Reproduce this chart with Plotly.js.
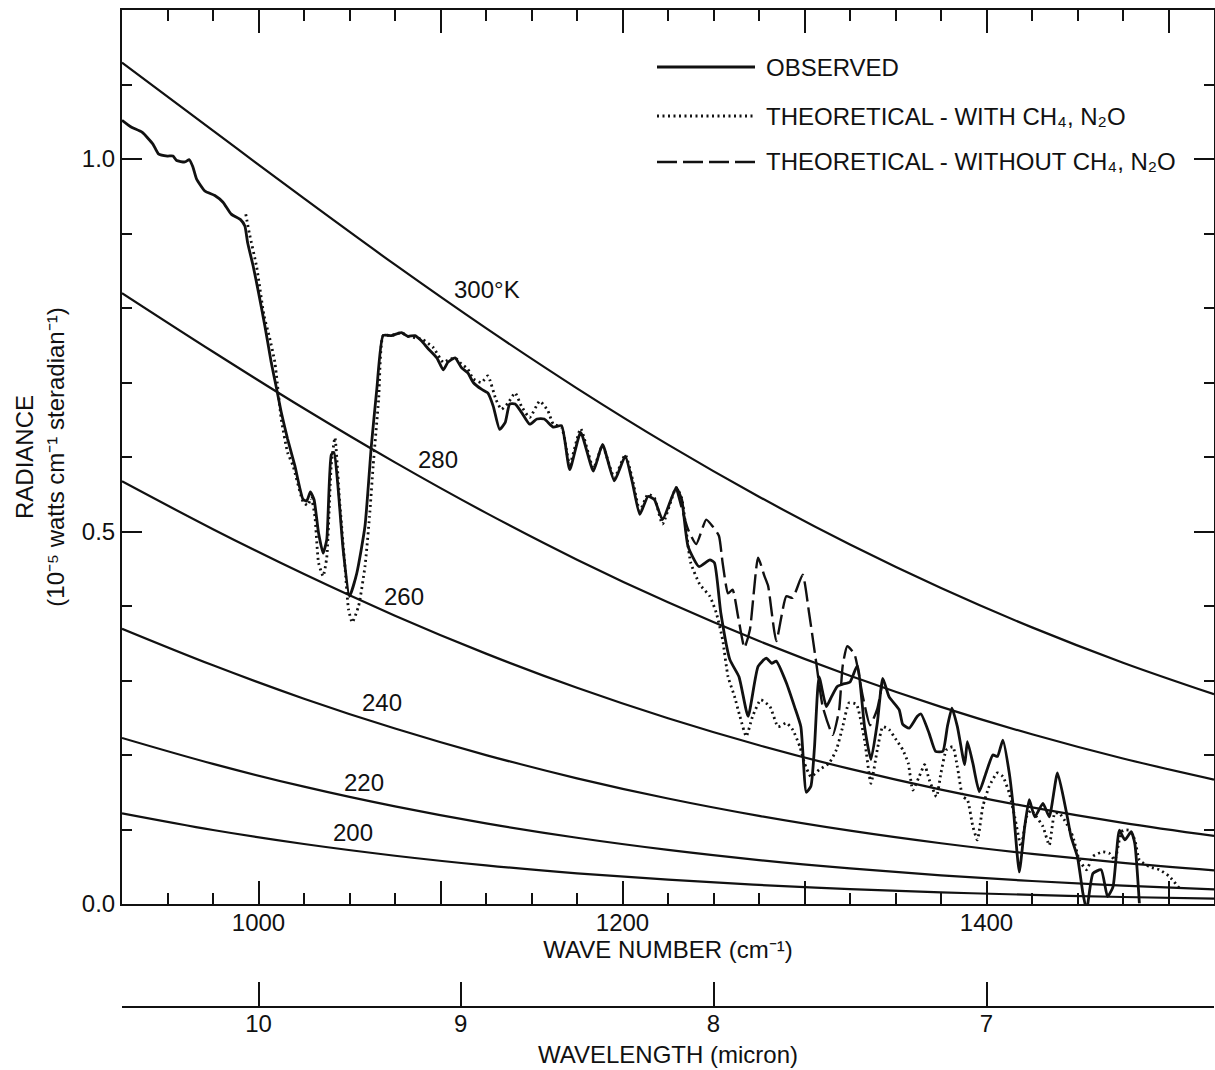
<!DOCTYPE html>
<html>
<head>
<meta charset="utf-8">
<script src="https://cdn.plot.ly/plotly-3.0.1.min.js"></script>
<style>
html,body{margin:0;padding:0;background:#fff;}
#chart{width:1215px;height:1070px;}
</style>
</head>
<body>
<div id="chart"></div>
<script>
// ---------- Blackbody reference curves ----------
const bbWavenumber = [925, 975, 1025, 1075, 1125, 1175, 1225, 1275, 1325, 1375, 1425, 1475, 1525];
const bb300 = [1.1294, 1.0380, 0.9470, 0.8581, 0.7729, 0.6922, 0.6166, 0.5467, 0.4825, 0.4241, 0.3713, 0.3239, 0.2816];
const bb280 = [0.8200, 0.7413, 0.6651, 0.5928, 0.5250, 0.4622, 0.4049, 0.3529, 0.3063, 0.2646, 0.2278, 0.1953, 0.1670];
const bb260 = [0.5674, 0.5031, 0.4428, 0.3870, 0.3361, 0.2902, 0.2493, 0.2131, 0.1813, 0.1536, 0.1297, 0.1090, 0.0914];
const bb240 = [0.3695, 0.3204, 0.2756, 0.2355, 0.1999, 0.1687, 0.1416, 0.1183, 0.0984, 0.0815, 0.0672, 0.0552, 0.0452];
const bb220 = [0.2229, 0.1881, 0.1575, 0.1310, 0.1082, 0.0889, 0.0726, 0.0590, 0.0478, 0.0385, 0.0309, 0.0247, 0.0197];
const bb200 = [0.1216, 0.0993, 0.0805, 0.0648, 0.0518, 0.0412, 0.0326, 0.0256, 0.0201, 0.0157, 0.0122, 0.0094, 0.0073];
const bbLabels = ['300°K', '280', '260', '240', '220', '200'];

// ---------- Observed spectrum ----------
const obsWn = [925, 930, 936, 942, 945, 950, 953, 955, 959.5, 962, 964, 966, 970.5, 976, 980.5, 985, 990, 992.5, 994, 997,
  1000, 1003.5, 1007, 1010, 1012.5, 1016, 1020, 1024.5, 1026.5, 1028.5, 1030.5, 1033, 1035.5, 1037.5, 1040, 1041.5, 1043.5, 1046.5, 1050, 1054,
  1058.5, 1062, 1065, 1068.5, 1073, 1078.5, 1082, 1086, 1089.5, 1093, 1098, 1101.5, 1104, 1108, 1111.5, 1115, 1118, 1122.5, 1126, 1129,
  1132.5, 1135.5, 1138, 1141, 1144.5, 1149, 1153, 1157, 1162, 1166.5, 1171, 1177, 1184, 1189, 1195.5, 1201.5, 1205.5, 1209.5, 1214, 1217.5,
  1222, 1229.5, 1232.5, 1236, 1242, 1248, 1250.5, 1254, 1259, 1264, 1269, 1274.5, 1279, 1282, 1284.5, 1290, 1294.5, 1298, 1301, 1303.5,
  1305.5, 1308, 1312, 1315, 1318, 1321, 1325, 1329, 1333, 1336.5, 1340, 1343, 1346.5, 1352, 1354, 1357.5, 1362, 1364, 1368.5, 1372,
  1376, 1378.5, 1381, 1384, 1388, 1389.5, 1392.5, 1396, 1400, 1403.5, 1406, 1409, 1412.5, 1414.5, 1418, 1421, 1423.5, 1426.5, 1431, 1434.5,
  1439, 1444, 1446.5, 1450, 1453, 1455, 1458.5, 1463, 1466.5, 1469.5, 1473, 1476, 1479.5, 1481.5, 1484];
const obsRad = [1.052, 1.043, 1.036, 1.020, 1.007, 1.004, 1.004, 0.998, 0.996, 0.999, 0.989, 0.973, 0.957, 0.951, 0.942, 0.926, 0.919, 0.910, 0.888, 0.857,
  0.821, 0.776, 0.727, 0.691, 0.660, 0.624, 0.588, 0.543, 0.541, 0.553, 0.543, 0.498, 0.471, 0.489, 0.603, 0.606, 0.565, 0.476, 0.413, 0.444,
  0.507, 0.615, 0.691, 0.763, 0.763, 0.767, 0.762, 0.763, 0.756, 0.746, 0.733, 0.717, 0.727, 0.733, 0.720, 0.713, 0.700, 0.691, 0.686, 0.668,
  0.637, 0.646, 0.671, 0.671, 0.660, 0.644, 0.651, 0.651, 0.640, 0.642, 0.583, 0.633, 0.581, 0.617, 0.568, 0.601, 0.565, 0.523, 0.547, 0.543,
  0.516, 0.559, 0.543, 0.480, 0.453, 0.462, 0.458, 0.391, 0.328, 0.305, 0.252, 0.319, 0.330, 0.323, 0.326, 0.297, 0.265, 0.238, 0.150, 0.158,
  0.211, 0.305, 0.265, 0.279, 0.292, 0.295, 0.298, 0.320, 0.238, 0.194, 0.243, 0.303, 0.278, 0.261, 0.241, 0.236, 0.252, 0.255, 0.229, 0.205,
  0.205, 0.238, 0.263, 0.238, 0.187, 0.218, 0.189, 0.151, 0.178, 0.200, 0.198, 0.220, 0.176, 0.135, 0.043, 0.104, 0.140, 0.117, 0.135, 0.117,
  0.176, 0.122, 0.090, 0.063, 0.014, -0.008, 0.041, 0.046, 0.010, 0.023, 0.099, 0.086, 0.097, 0.081, 0.001];

// ---------- Theoretical, with CH4 and N2O ----------
const withWn = [993, 995, 999, 1003, 1006, 1009, 1012.5, 1016, 1019, 1024.5, 1027, 1029, 1031, 1033, 1035.5, 1037.5, 1040, 1042, 1044.5, 1047.5,
  1049.5, 1051.5, 1055, 1058.5, 1061, 1063, 1066, 1068.5, 1073, 1078.5, 1082, 1086, 1090, 1096, 1101.5, 1104, 1108, 1111.5, 1115, 1118,
  1122.5, 1126, 1130.5, 1133.5, 1137, 1141, 1144.5, 1149, 1154.5, 1159, 1162, 1166.5, 1171, 1177, 1184, 1189, 1195.5, 1201.5, 1205.5, 1209.5,
  1214, 1217.5, 1222, 1229.5, 1232.5, 1237.5, 1242.5, 1248, 1251.5, 1255, 1258, 1261.5, 1264.5, 1268, 1271.5, 1276, 1281, 1285.5, 1290, 1293.5,
  1297.5, 1300, 1303.5, 1308, 1313.5, 1317.5, 1321, 1324.5, 1328.5, 1333, 1336.5, 1340, 1343, 1346.5, 1350.5, 1354, 1357, 1359.5, 1363, 1366,
  1368.5, 1372.5, 1375, 1378, 1381.5, 1384, 1387, 1389.5, 1392.5, 1395, 1398, 1401.5, 1406, 1409, 1412.5, 1415.5, 1419, 1422, 1424.5, 1427.5,
  1431, 1434.5, 1437.5, 1440, 1444, 1447.5, 1451, 1455, 1458.5, 1464, 1467.5, 1470.5, 1473, 1475, 1478.5, 1481.5, 1484, 1489.5, 1495, 1500.5, 1506];
const withRad = [0.926, 0.900, 0.855, 0.790, 0.761, 0.727, 0.651, 0.606, 0.588, 0.540, 0.535, 0.545, 0.520, 0.458, 0.440, 0.465, 0.590, 0.626, 0.543, 0.453,
  0.395, 0.378, 0.400, 0.453, 0.520, 0.588, 0.677, 0.763, 0.763, 0.767, 0.762, 0.760, 0.758, 0.747, 0.727, 0.730, 0.733, 0.725, 0.718, 0.705,
  0.700, 0.709, 0.677, 0.664, 0.672, 0.686, 0.668, 0.653, 0.675, 0.662, 0.644, 0.640, 0.590, 0.638, 0.585, 0.615, 0.572, 0.603, 0.570, 0.528,
  0.550, 0.545, 0.510, 0.559, 0.545, 0.458, 0.429, 0.413, 0.391, 0.355, 0.305, 0.279, 0.252, 0.225, 0.252, 0.274, 0.265, 0.238, 0.243, 0.234,
  0.211, 0.189, 0.171, 0.180, 0.189, 0.207, 0.238, 0.270, 0.268, 0.220, 0.162, 0.207, 0.238, 0.234, 0.220, 0.207, 0.189, 0.153, 0.171, 0.187,
  0.167, 0.144, 0.176, 0.207, 0.211, 0.184, 0.144, 0.140, 0.104, 0.086, 0.131, 0.158, 0.176, 0.171, 0.149, 0.117, 0.077, 0.117, 0.126, 0.117,
  0.104, 0.079, 0.122, 0.122, 0.108, 0.090, 0.059, 0.046, 0.064, 0.070, 0.068, 0.059, 0.086, 0.099, 0.099, 0.086, 0.059, 0.050, 0.046, 0.037, 0.021];

// ---------- Theoretical, without CH4 and N2O (where it departs) ----------
const withoutWn = [1229.5, 1236, 1240.5, 1246, 1249.5, 1253, 1255, 1258, 1260.5, 1263.5, 1267, 1270, 1274.5, 1278, 1280, 1284.5, 1290, 1293.5, 1299, 1302.5,
  1306.5, 1310, 1315.5, 1319, 1321, 1323.5, 1327.5, 1332, 1336, 1340, 1343];
const withoutRad = [0.559, 0.503, 0.483, 0.516, 0.507, 0.494, 0.458, 0.417, 0.422, 0.386, 0.344, 0.368, 0.465, 0.440, 0.427, 0.353, 0.413, 0.411, 0.442, 0.391,
  0.323, 0.265, 0.227, 0.260, 0.320, 0.346, 0.335, 0.279, 0.240, 0.262, 0.300];

// ---------- Axis ticks ----------
const wnLabelVals = [1000, 1200, 1400];
const wnLabelText = ['1000', '1200', '1400'];
const wnUnlabeledMajor = [1100, 1300, 1500];
const radTickVals = [0, 0.5, 1.0];
const radTickText = ['0.0', '0.5', '1.0'];
const wlTickPos = [1000, 1111.1, 1250, 1400];   // wave-number positions of the wavelength ticks as drawn
const wlTickText = ['10', '9', '8', '7'];

// ---------- Legend ----------
const seriesNames = ['OBSERVED', 'THEORETICAL - WITH CH₄, N₂O', 'THEORETICAL - WITHOUT CH₄, N₂O'];

const FONT = '"Liberation Sans", Arial, Helvetica, sans-serif';
const INK = '#111';
const XRANGE = [925, 1525];

const bbSets = [bb300, bb280, bb260, bb240, bb220, bb200];
const traces = bbSets.map((ys, i) => ({
  type: 'scatter', mode: 'lines', x: bbWavenumber, y: ys, name: bbLabels[i],
  line: {color: INK, width: 2.2, shape: 'spline', smoothing: 1}, showlegend: false, hoverinfo: 'skip'
}));
const seriesDash = ['solid', '2px,3.5px', '20px,6px'];
const seriesWidth = [2.8, 2.8, 2.4];
[[obsWn, obsRad], [withWn, withRad], [withoutWn, withoutRad]].forEach((s, i) => {
  traces.push({
    type: 'scatter', mode: 'lines', x: s[0], y: s[1], name: seriesNames[i],
    line: {color: INK, width: seriesWidth[i], dash: seriesDash[i], shape: 'spline', smoothing: 0.5},
    showlegend: false
  });
});
// carriers for the extra axes (no visible marks)
traces.push({type: 'scatter', mode: 'lines', x: XRANGE, y: [null, null], xaxis: 'x2', yaxis: 'y', showlegend: false, hoverinfo: 'skip'});
traces.push({type: 'scatter', mode: 'lines', x: XRANGE, y: [null, null], xaxis: 'x3', yaxis: 'y', showlegend: false, hoverinfo: 'skip'});

// curve labels (data coordinates)
const labelPos = [[1125.3, 0.825], [1098.4, 0.597], [1079.9, 0.413], [1067.9, 0.270], [1057.7, 0.163], [1052, 0.0954]];
const annotations = bbLabels.map((t, i) => ({
  x: labelPos[i][0], y: labelPos[i][1], xref: 'x', yref: 'y', text: t, showarrow: false,
  xanchor: 'center', yanchor: 'middle', font: {family: FONT, size: 24, color: INK}
}));

// manual legend (long line samples as in the original)
const W = 1215, H = 1070, ML = 122, MR = 1, MT = 10, MB = 63;
const pw = W - ML - MR, ph = H - MT - MB;
const px = x => (x - ML) / pw;
const py = y => (H - MB - y) / ph;
const legendRows = [67, 116, 162];
const shapes = [];
legendRows.forEach((yy, i) => {
  shapes.push({type: 'line', xref: 'paper', yref: 'paper', x0: px(657), x1: px(755), y0: py(yy), y1: py(yy),
    line: {color: INK, width: seriesWidth[i], dash: seriesDash[i]}});
  annotations.push({xref: 'paper', yref: 'paper', x: px(764), y: py(yy), text: seriesNames[i], showarrow: false,
    xanchor: 'left', yanchor: 'middle', font: {family: FONT, size: 24, color: INK}});
});

const yBottom = (H - MB - 904) / ph;
const tickStyle = {ticks: 'inside', tickwidth: 2, tickcolor: INK, showgrid: false, zeroline: false, automargin: false};

const layout = {
  width: W, height: H,
  margin: {l: ML, r: MR, t: MT, b: MB, pad: 0},
  paper_bgcolor: '#fff', plot_bgcolor: '#fff',
  font: {family: FONT, size: 24, color: INK},
  showlegend: false,
  xaxis: Object.assign({}, tickStyle, {
    range: XRANGE, anchor: 'y', tickmode: 'array', tickvals: wnLabelVals, ticktext: wnLabelText,
    ticklen: 23, ticklabelstandoff: -4,
    showline: true, linewidth: 2, linecolor: INK, mirror: 'ticks',
    minor: {tickmode: 'linear', tick0: 1000, dtick: 25, ticks: 'inside', ticklen: 11, tickwidth: 2, tickcolor: INK, showgrid: false},
    tickfont: {family: FONT, size: 24, color: INK},
    title: {text: 'WAVE NUMBER (cm⁻¹)', standoff: 0, font: {family: FONT, size: 24, color: INK}}
  }),
  xaxis3: Object.assign({}, tickStyle, {
    overlaying: 'x', anchor: 'y', side: 'bottom', range: XRANGE,
    tickmode: 'array', tickvals: wnUnlabeledMajor, ticklen: 23, showticklabels: false,
    showline: false, mirror: 'ticks'
  }),
  xaxis2: Object.assign({}, tickStyle, {
    overlaying: 'x', anchor: 'free', position: 0, side: 'bottom',
    range: XRANGE, tickmode: 'array', tickvals: wlTickPos, ticktext: wlTickText,
    ticklen: 24, ticklabelstandoff: -5,
    showline: true, linewidth: 2, linecolor: INK,
    tickfont: {family: FONT, size: 24, color: INK},
    title: {text: 'WAVELENGTH (micron)', standoff: 9, font: {family: FONT, size: 24, color: INK}}
  }),
  yaxis: Object.assign({}, tickStyle, {
    domain: [yBottom, 1], range: [0, 1.2], anchor: 'x',
    tickmode: 'array', tickvals: radTickVals, ticktext: radTickText,
    ticklen: 20,
    showline: true, linewidth: 2, linecolor: INK, mirror: 'ticks',
    minor: {tickmode: 'linear', tick0: 0, dtick: 0.1, ticks: 'inside', ticklen: 10, tickwidth: 2, tickcolor: INK, showgrid: false},
    tickfont: {family: FONT, size: 24, color: INK},
    title: {text: 'RADIANCE<br>(10⁻⁵ watts cm⁻¹ steradian⁻¹)', standoff: 10, font: {family: FONT, size: 24, color: INK}}
  }),
  shapes: shapes,
  annotations: annotations
};

Plotly.newPlot('chart', traces, layout, {staticPlot: true, displayModeBar: false});
</script>
</body>
</html>
